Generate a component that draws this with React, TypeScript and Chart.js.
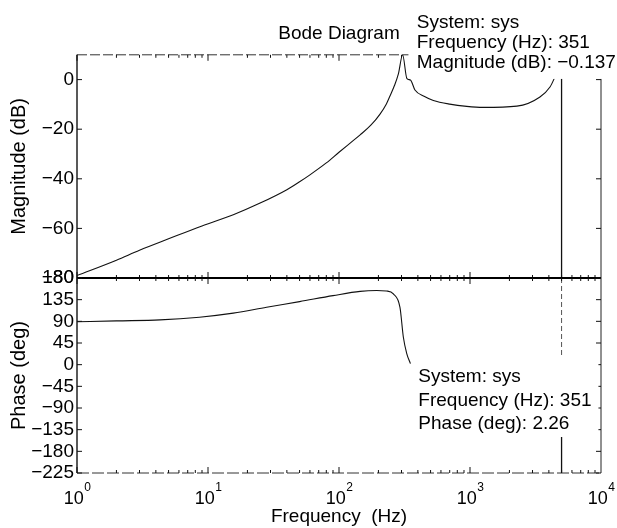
import React, { useEffect, useRef } from 'react';
import { Chart, registerables } from 'chart.js';

Chart.register(...registerables);

const W = 617;
const H = 528;
const FONT = '"Liberation Sans", Arial, Helvetica, sans-serif';

// ---- axes ----
const xTickValues = [1, 10, 100, 1000, 10000];
const xTickBase = '10';
const xTickExponents = ['0', '1', '2', '3', '4'];
const magTickValues = [0, -20, -40, -60, -80];
const phaseTickValues = [180, 135, 90, 45, 0, -45, -90, -135, -180, -225];

// ---- magnitude response ----
const magFreq = [1, 2, 3, 5, 9, 15.6, 25, 40, 50, 60, 80, 100, 121, 145, 175, 205, 230, 245, 265, 284, 306, 330, 351, 380, 450, 525, 700, 944, 1260, 2280, 3420, 4080, 4400, 5000];
const magDb = [-79, -72.8, -68.8, -64.2, -59, -54.5, -49.8, -44.4, -41.2, -38.4, -33.6, -29.3, -25.7, -22.3, -18.4, -14, -9.8, -6.6, -2.4, 2.3, 10, 0.4, -0.137, -4.2, -6.8, -8.4, -9.9, -10.8, -11.2, -10.7, -7, -3, 0.5, 8];

// ---- phase response ----
const phaseFreq = [1, 2, 4.3, 8.6, 15.6, 28, 50, 90, 145, 194, 230, 260, 292, 310, 329, 351];
const phaseDeg = [89, 91, 93, 98.6, 107, 119.3, 131, 143.4, 152.3, 154, 153, 147, 119, 57, 23, 2.26];

// ---- Nyquist line ----
const nyquistFreq = [5000, 5000];
const magNyquist = [10, -80];
const phaseNyquistTop = [180, 15];
const phaseNyquistBottom = [-150, -225];

// ---- data tips ----
const tipFreq = 351;
const magTipDb = -0.137;
const phaseTipDeg = 2.26;

const fmt = (v: number) => (v < 0 ? '\u2212' + Math.abs(v) : String(v));

const magTipLines = ['System: sys', `Frequency (Hz): ${tipFreq}`, `Magnitude (dB): ${fmt(magTipDb)}`];
const phaseTipLines = ['System: sys', `Frequency (Hz): ${tipFreq}`, `Phase (deg): ${fmt(phaseTipDeg)}`];

const pts = (xs: number[], ys: number[]) => xs.map((x, i) => ({ x, y: ys[i] }));

type Edge = { color: string; width: number; dash: number[] };

function framePlugin(id: string, yTicks: number[], edges: { top: Edge; bottom: Edge; left: Edge; right: Edge }) {
  return {
    id,
    afterDatasetsDraw(chart: any) {
      const { ctx, chartArea: a, scales } = chart;
      const xs = scales.x;
      const ys = scales.y;
      const seg = (x1: number, y1: number, x2: number, y2: number, e: Edge) => {
        ctx.save();
        ctx.strokeStyle = e.color;
        ctx.lineWidth = e.width;
        ctx.setLineDash(e.dash);
        ctx.beginPath();
        ctx.moveTo(x1, y1);
        ctx.lineTo(x2, y2);
        ctx.stroke();
        ctx.restore();
      };
      seg(a.left, a.top, a.right, a.top, edges.top);
      seg(a.left, a.bottom, a.right, a.bottom, edges.bottom);
      seg(a.left, a.top, a.left, a.bottom, edges.left);
      seg(a.right, a.top, a.right, a.bottom, edges.right);
      const tick: Edge = { color: '#111', width: 1, dash: [] };
      for (let d = 0; d < 4; d++) {
        for (let m = 1; m <= 9; m++) {
          const px = xs.getPixelForValue(m * Math.pow(10, d));
          const len = m === 1 ? 6 : 3;
          seg(px, a.top, px, a.top + len, tick);
          seg(px, a.bottom, px, a.bottom - len, tick);
        }
      }
      yTicks.forEach((v) => {
        const py = ys.getPixelForValue(v);
        seg(a.left, py, a.left + 5, py, tick);
        seg(a.right, py, a.right - 5, py, tick);
      });
    },
  };
}

function tipPlugin(id: string, freq: number, val: number, lines: string[], box: { dx1: number; dy1: number; dx2: number; dy2: number }, textDx: number, baselines: number[]) {
  return {
    id,
    afterDraw(chart: any) {
      const { ctx, scales } = chart;
      const px = scales.x.getPixelForValue(freq);
      const py = scales.y.getPixelForValue(val);
      ctx.save();
      ctx.fillStyle = '#fff';
      const x1 = px + box.dx1;
      const y1 = Math.max(0, py + box.dy1);
      ctx.fillRect(x1, y1, px + box.dx2 - x1, py + box.dy2 - y1);
      ctx.fillStyle = '#000';
      ctx.font = `19px ${FONT}`;
      ctx.textAlign = 'left';
      ctx.textBaseline = 'alphabetic';
      lines.forEach((t, i) => ctx.fillText(t, px + textDx, py + baselines[i]));
      ctx.restore();
    },
  };
}

const xLabelPlugin = {
  id: 'xLabels',
  afterDraw(chart: any) {
    const { ctx, chartArea: a, scales } = chart;
    ctx.save();
    ctx.fillStyle = '#000';
    ctx.textBaseline = 'alphabetic';
    ctx.textAlign = 'left';
    xTickValues.forEach((v, i) => {
      const px = scales.x.getPixelForValue(v);
      ctx.font = `18px ${FONT}`;
      const w1 = ctx.measureText(xTickBase).width;
      ctx.font = `12px ${FONT}`;
      const w2 = ctx.measureText(xTickExponents[i]).width;
      const start = px - (w1 + w2) / 2;
      ctx.font = `18px ${FONT}`;
      ctx.fillText(xTickBase, start, a.bottom + 30.5);
      ctx.font = `12px ${FONT}`;
      ctx.fillText(xTickExponents[i], start + w1 + 0.5, a.bottom + 18);
    });
    ctx.restore();
  },
};

const lineDs = (data: any[], extra: any = {}) => ({
  data,
  borderColor: '#111',
  borderWidth: 1.1,
  pointRadius: 0,
  fill: false,
  cubicInterpolationMode: 'monotone',
  ...extra,
});

const yAxis = (min: number, max: number, ticks: number[], title: string) => ({
  type: 'linear',
  min,
  max,
  afterBuildTicks: (s: any) => {
    s.ticks = ticks.map((v) => ({ value: v }));
  },
  afterFit: (s: any) => {
    s.width = 77;
  },
  grid: { display: false, drawTicks: false },
  border: { display: false },
  ticks: {
    color: '#000',
    padding: 3,
    autoSkip: false,
    font: { family: FONT, size: 19 },
    callback: (v: any) => fmt(Number(v)),
  },
  title: {
    display: true,
    text: title,
    color: '#000',
    font: { family: FONT, size: 20 },
    padding: { top: 7, bottom: 0 },
  },
});

const xAxis = (height: number, title?: string) => ({
  type: 'logarithmic',
  min: 1,
  max: 10000,
  afterBuildTicks: (s: any) => {
    s.ticks = xTickValues.map((v) => ({ value: v }));
  },
  afterFit: (s: any) => {
    s.height = height;
  },
  grid: { display: false, drawTicks: false },
  border: { display: false },
  ticks: { display: false },
  title: title
    ? { display: true, text: title, color: '#000', font: { family: FONT, size: 19 }, padding: { top: 0, bottom: 0 } }
    : { display: false },
});

export default function App() {
  const magRef = useRef<HTMLCanvasElement>(null);
  const phRef = useRef<HTMLCanvasElement>(null);

  useEffect(() => {
    const magChart = new Chart(magRef.current as HTMLCanvasElement, {
      type: 'line',
      data: {
        datasets: [
          lineDs(pts(magFreq, magDb)),
          lineDs(pts(nyquistFreq, magNyquist), { borderWidth: 1.3, cubicInterpolationMode: 'default', tension: 0 }),
        ],
      },
      options: {
        responsive: false,
        animation: false,
        devicePixelRatio: 1,
        layout: { padding: { left: 0, right: 16, top: 0, bottom: 0 } },
        scales: { x: xAxis(H - 278) as any, y: yAxis(-80, 10, magTickValues, 'Magnitude (dB)') as any },
        plugins: {
          legend: { display: false },
          tooltip: { enabled: false },
          title: {
            display: true,
            text: 'Bode Diagram',
            color: '#000',
            fullSize: false,
            font: { family: FONT, size: 19, weight: 'normal' },
            padding: { top: 22, bottom: 10 },
          },
        },
      } as any,
      plugins: [
        framePlugin('magFrame', magTickValues, {
          top: { color: '#333', width: 1, dash: [10, 3] },
          bottom: { color: '#000', width: 2, dash: [] },
          left: { color: '#222', width: 1.5, dash: [] },
          right: { color: '#222', width: 1, dash: [] },
        }),
        tipPlugin('magTip', tipFreq, magTipDb, magTipLines, { dx1: -2, dy1: -90, dx2: 220, dy2: -1 }, 6.3, [-51.8, -31.8, -12.4]),
      ],
    } as any);

    const phaseChart = new Chart(phRef.current as HTMLCanvasElement, {
      type: 'line',
      data: {
        datasets: [
          lineDs(pts(phaseFreq, phaseDeg)),
          lineDs(pts(nyquistFreq, phaseNyquistTop), { borderColor: '#555', borderWidth: 1, borderDash: [5, 3], cubicInterpolationMode: 'default', tension: 0 }),
          lineDs(pts(nyquistFreq, phaseNyquistBottom), { borderWidth: 1.3, cubicInterpolationMode: 'default', tension: 0 }),
        ],
      },
      options: {
        responsive: false,
        animation: false,
        devicePixelRatio: 1,
        layout: { padding: { left: 0, right: 16, top: 278, bottom: 0 } },
        scales: { x: xAxis(H - 473, 'Frequency  (Hz)') as any, y: yAxis(-225, 180, phaseTickValues, 'Phase (deg)') as any },
        plugins: {
          legend: { display: false },
          tooltip: { enabled: false },
          title: { display: false },
        },
      } as any,
      plugins: [
        framePlugin('phaseFrame', phaseTickValues, {
          top: { color: '#000', width: 2, dash: [] },
          bottom: { color: '#333', width: 1, dash: [12, 3] },
          left: { color: '#222', width: 1.5, dash: [] },
          right: { color: '#222', width: 1, dash: [] },
        }),
        tipPlugin('phaseTip', tipFreq, phaseTipDeg, phaseTipLines, { dx1: 4, dy1: -6, dx2: 188, dy2: 73 }, 7.9, [18.4, 42.4, 65.4]),
        xLabelPlugin,
      ],
    } as any);

    return () => {
      magChart.destroy();
      phaseChart.destroy();
    };
  }, []);

  return (
    <div style={{ position: 'absolute', left: 0, top: 0, width: W, height: H, background: '#fff' }}>
      <canvas ref={magRef} width={W} height={H} style={{ position: 'absolute', left: 0, top: 0 }} />
      <canvas ref={phRef} width={W} height={H} style={{ position: 'absolute', left: 0, top: 0 }} />
    </div>
  );
}
